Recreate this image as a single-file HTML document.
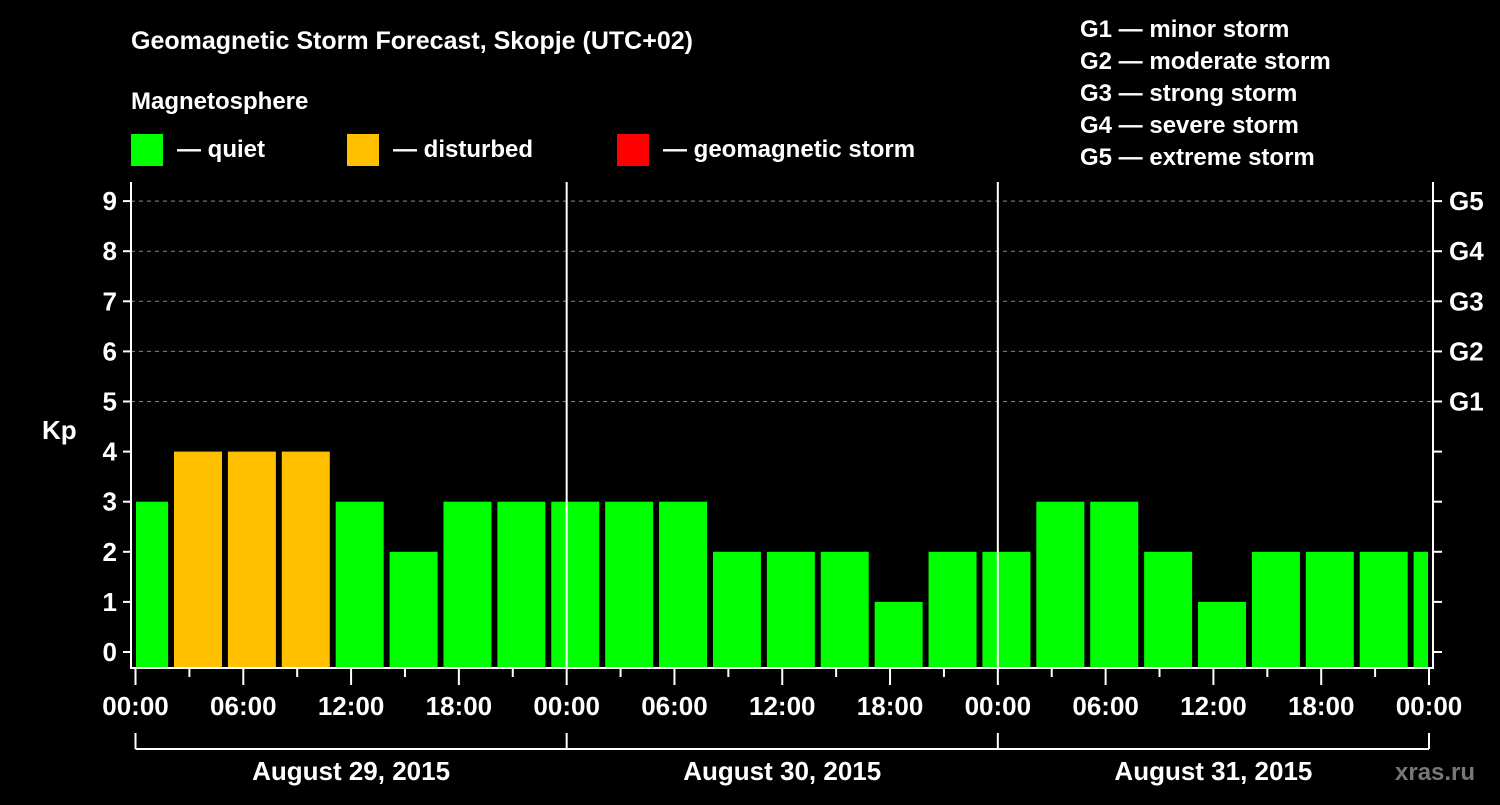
<!DOCTYPE html>
<html><head><meta charset="utf-8"><style>
html,body{margin:0;padding:0;background:#000;}
svg text{font-family:"Liberation Sans",Arial,sans-serif;font-weight:bold;fill:#fff;}
</style></head><body>
<svg id="chart" width="1500" height="800" viewBox="0 0 1500 800" xmlns="http://www.w3.org/2000/svg">
<rect width="1500" height="800" fill="#000"/>
<text x="131" y="49" font-size="25">Geomagnetic Storm Forecast, Skopje (UTC+02)</text>
<text x="131" y="109" font-size="24">Magnetosphere</text>
<g>
<rect x="131" y="134" width="32" height="32" fill="#00ff00"/>
<text x="177" y="157" font-size="24">— quiet</text>
<rect x="347" y="134" width="32" height="32" fill="#ffc000"/>
<text x="393" y="157" font-size="24">— disturbed</text>
<rect x="617" y="134" width="32" height="32" fill="#ff0000"/>
<text x="663" y="157" font-size="24">— geomagnetic storm</text>
</g>
<g font-size="24">
<text x="1080" y="37">G1 — minor storm</text>
<text x="1080" y="69">G2 — moderate storm</text>
<text x="1080" y="101">G3 — strong storm</text>
<text x="1080" y="133">G4 — severe storm</text>
<text x="1080" y="165">G5 — extreme storm</text>
</g>
<text x="42" y="439" font-size="26">Kp</text>
<text x="1395" y="780" font-size="24" fill="#777" style="fill:#777">xras.ru</text>
<g id="grid"></g><g id="bars"></g><g id="axes"></g>
</svg>
<script>
const kpValues=[3,4,4,4,3,2,3,3,3,3,3,2,2,2,1,2,2,3,3,2,1,2,2,2,2];
const hourTicks=["00:00","06:00","12:00","18:00","00:00","06:00","12:00","18:00","00:00","06:00","12:00","18:00","00:00"];
const dayLabels=["August 29, 2015","August 30, 2015","August 31, 2015"];
const gLabels=["G1","G2","G3","G4","G5"];
const NS="http://www.w3.org/2000/svg";
const X0=135.5,X1=1429,PL=131,PR=1433,PT=182,PB=668;
const x=h=>X0+(X1-X0)*h/72;
const y=v=>652-v*50.1;
function mk(tag,attrs,parent){const e=document.createElementNS(NS,tag);for(const k in attrs)e.setAttribute(k,attrs[k]);parent.appendChild(e);return e;}
const grid=document.getElementById('grid'),bars=document.getElementById('bars'),axes=document.getElementById('axes');
for(let v=5;v<=9;v++){const l=mk('line',{x1:PL,x2:PR,y1:y(v),y2:y(v),stroke:'#888','stroke-dasharray':'4,4','stroke-width':1},grid);

}
kpValues.forEach((v,k)=>{let l=x(3*k)-15.4,r=l+48;l=Math.max(l,136);r=Math.min(r,1428);
const c=v>=5?'#ff0000':(v>=4?'#ffc000':'#00ff00');
const b=mk('rect',{x:l,y:y(v),width:r-l,height:PB-1-y(v),fill:c},bars);

});
const W={stroke:'#fff','stroke-width':2};
let e;
e=mk('line',Object.assign({x1:PL,x2:PL,y1:PT,y2:PB+1},W),axes);


e=mk('line',Object.assign({x1:PR,x2:PR,y1:PT,y2:PB+1},W),axes);


e=mk('line',Object.assign({x1:PL,x2:PR,y1:PB,y2:PB},W),axes);


[24,48].forEach(h=>{e=mk('line',Object.assign({x1:x(h),x2:x(h),y1:PT,y2:PB},W),axes);

});
for(let v=0;v<=9;v++){
mk('line',Object.assign({x1:PL-8,x2:PL,y1:y(v),y2:y(v)},W),axes);
mk('line',Object.assign({x1:PR,x2:PR+9,y1:y(v),y2:y(v)},W),axes);
const t=mk('text',{x:PL-14,y:y(v)+9,'font-size':26,'text-anchor':'end'},axes);t.textContent=v;

}
gLabels.forEach((g,i)=>{const t=mk('text',{x:1449,y:y(5+i)+9,'font-size':26},axes);t.textContent=g;

});
for(let h=0;h<=72;h+=3){const major=h%6===0;mk('line',Object.assign({x1:x(h),x2:x(h),y1:PB,y2:PB+(major?17:9)},W),axes);}
hourTicks.forEach((s,i)=>{const t=mk('text',{x:x(i*6),y:715,'font-size':26,'text-anchor':'middle'},axes);t.textContent=s;

});
e=mk('line',Object.assign({x1:x(0),x2:x(72),y1:749,y2:749},W),axes);


[0,24,48,72].forEach(h=>mk('line',Object.assign({x1:x(h),x2:x(h),y1:733,y2:749},W),axes));
dayLabels.forEach((s,i)=>{const t=mk('text',{x:x(i*24+12),y:780,'font-size':26,'text-anchor':'middle'},axes);t.textContent=s;

});
</script>
</body></html>
